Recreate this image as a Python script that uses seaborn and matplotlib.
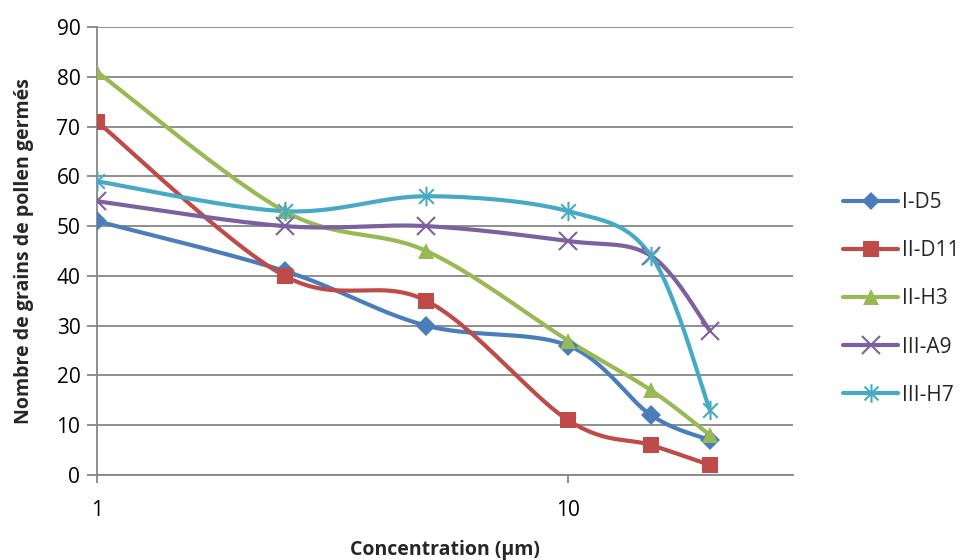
import numpy as np
import pandas as pd
import matplotlib
matplotlib.use('Agg')
import matplotlib.pyplot as plt
from matplotlib.path import Path
from matplotlib.lines import Line2D
import seaborn as sns

# Data
concentration = [1, 2.5, 5, 10, 15, 20]
series_names = ['I-D5', 'II-D11', 'II-H3', 'III-A9', 'III-H7']
i_d5 = [51, 41, 30, 26, 12, 7]
ii_d11 = [71, 40, 35, 11, 6, 2]
ii_h3 = [81, 53, 45, 27, 17, 8]
iii_a9 = [55, 50, 50, 47, 44, 29]
iii_h7 = [59, 53, 56, 53, 44, 13]
all_values = [i_d5, ii_d11, ii_h3, iii_a9, iii_h7]

colors = ['#4A7EBB', '#BE4B48', '#98B954', '#7D60A0', '#46AAC5']

# Excel-like asterisk marker (vertical bar + x)
d = 0.75
asterisk = Path([(0, -1), (0, 1), (-d, -d), (d, d), (-d, d), (d, -d)],
                [Path.MOVETO, Path.LINETO, Path.MOVETO, Path.LINETO,
                 Path.MOVETO, Path.LINETO])
markers = ['D', 's', '^', 'x', asterisk]
msizes = [10, 12, 12, 13, 14]
line_marker = [False, False, False, True, True]


def excel_smooth(xs, ys, sx=470.0, sy=4.98, n=30):
    # Bezier smoothing like Excel's "smoothed line", done in screen-like units
    u = np.log10(np.asarray(xs, float)) * sx
    v = np.asarray(ys, float) * sy
    pts = np.column_stack([u, v])
    out = []
    for i in range(len(pts) - 1):
        p0 = pts[i - 1] if i > 0 else pts[i]
        p1 = pts[i]
        p2 = pts[i + 1]
        p3 = pts[i + 2] if i + 2 < len(pts) else pts[i + 1]
        c1 = p1 + (p2 - p0) / 6.0
        c2 = p2 - (p3 - p1) / 6.0
        t = np.linspace(0, 1, n)[:, None]
        seg = ((1 - t) ** 3) * p1 + 3 * ((1 - t) ** 2) * t * c1 \
            + 3 * (1 - t) * t ** 2 * c2 + t ** 3 * p2
        out.append(seg if i == 0 else seg[1:])
    out = np.vstack(out)
    return 10 ** (out[:, 0] / sx), out[:, 1] / sy


sns.set_style('white')
plt.rcParams['font.family'] = ['Open Sans', 'DejaVu Sans']

fig = plt.figure(figsize=(9.69, 5.6), dpi=100)
ax = fig.add_axes([97 / 969, 1 - 475 / 560, (793 - 97) / 969, (475 - 27) / 560])

for name, vals, col, mk, ms, lm in zip(series_names, all_values, colors,
                                       markers, msizes, line_marker):
    sx_, sy_ = excel_smooth(concentration, vals)
    curve = pd.DataFrame({'x': sx_, 'y': sy_})
    sns.lineplot(data=curve, x='x', y='y', sort=False, color=col, lw=3,
                 ax=ax, solid_capstyle='round', legend=False)
    ax.plot(concentration, vals, linestyle='none', marker=mk, markersize=ms,
            color=col, markeredgecolor=col,
            markeredgewidth=1.5 if lm else 0, zorder=3)

ax.set_xscale('log')
ax.set_xlim(1, 30)
ax.set_ylim(0, 90)
ax.set_yticks(range(0, 91, 10))
ax.set_xticks([1, 10])
ax.set_xticklabels(['1', '10'])
ax.xaxis.set_minor_locator(matplotlib.ticker.NullLocator())

ax.grid(axis='y', color='#868686', lw=1.3)
ax.set_axisbelow(True)
for s in ['top', 'right']:
    ax.spines[s].set_visible(False)
for s in ['left', 'bottom']:
    ax.spines[s].set_color('#868686')
    ax.spines[s].set_linewidth(1.3)

ax.tick_params(axis='y', length=7, width=1.3, color='#868686', pad=5,
               labelsize=15, labelcolor='black', left=True)
ax.tick_params(axis='x', length=6, width=1.3, color='#868686', pad=12,
               labelsize=15, labelcolor='black', bottom=True)

ax.set_xlabel('Concentration (µm)', fontsize=14, fontweight='bold')
ax.set_ylabel('Nombre de grains de pollen germés', fontsize=14,
              fontweight='bold')
ax.xaxis.set_label_coords(0.5, (475 - 540) / 448)
ax.yaxis.set_label_coords((34 - 97) / 696, 0.5)

handles = [Line2D([0], [0], color=c, lw=3, marker=m, markersize=s * 0.95,
                  markeredgecolor=c, markeredgewidth=(1.5 if lm else 0))
           for c, m, s, lm in zip(colors, markers, msizes, line_marker)]
fig.legend(handles, series_names, loc='center left',
           bbox_to_anchor=(843 / 969, 1 - 299 / 560), frameon=False,
           fontsize=15, handlelength=2.65, handletextpad=0.2,
           labelspacing=1.3, borderaxespad=0, borderpad=0)

fig.savefig('out.png', dpi=100)
